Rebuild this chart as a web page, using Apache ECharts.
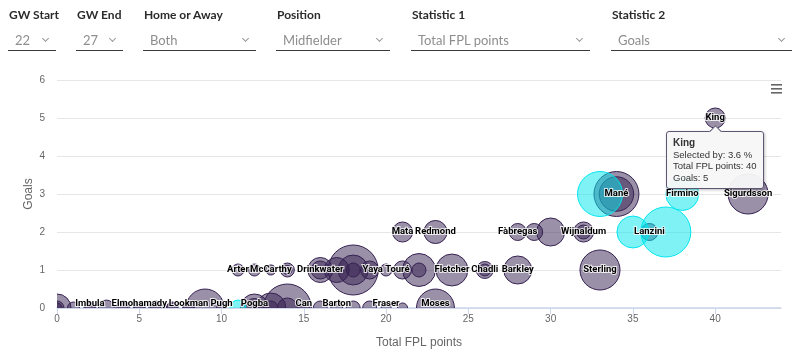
<!DOCTYPE html>
<html>
<head>
<meta charset="utf-8">
<script src="https://cdn.jsdelivr.net/npm/echarts@6/dist/echarts.min.js"></script>
<style>
  html, body { margin: 0; padding: 0; background: #fff; }
  #chart { position: absolute; left: 0; top: 0; width: 800px; height: 354px; }
  .filter { position: absolute; top: 0; z-index: 2; font-family: Lato, 'Open Sans', sans-serif; }
  .filter .title { position: absolute; top: 7px; left: 1px; font-size: 12px; font-weight: 700; color: #2b2b2b; white-space: nowrap; }
  .filter .box { position: absolute; top: 30px; left: 0; right: 0; height: 20px; border-bottom: 1.5px solid #3a3a3a; }
  .filter .value { position: absolute; left: 7px; top: 2px; font-size: 13px; color: #8e8e8e; white-space: nowrap; }
  .filter .chev { position: absolute; right: 8px; top: 6px; width: 4px; height: 4px; border-right: 1px solid #999; border-bottom: 1px solid #999; transform: rotate(45deg); }
  .tip-arrow { position: absolute; top: -5px; left: 50%; margin-left: -4px; width: 8px; height: 8px; background: #f7f7f7; border-left: 1px solid #5e5670; border-top: 1px solid #5e5670; transform: rotate(45deg); }
</style>
</head>
<body>
<div id="chart"></div>
<div id="filters"></div>
<script>
// filter bar
const filterTitles = ['GW Start', 'GW End', 'Home or Away', 'Position', 'Statistic 1', 'Statistic 2'];
const filterValues = ['22', '27', 'Both', 'Midfielder', 'Total FPL points', 'Goals'];
const filterLeft = [8, 76, 143, 276, 411, 611];
const filterWidth = [48, 47, 113, 114, 179, 181];

// players outside the highlighted group
const otherNames = ['King', 'Mané', '', 'Sigurdsson', 'Mata', 'Redmond', 'Fàbregas', '', '', 'Wijnaldum', '', 'Lanzini',
  'Arter', '', 'McCarthy', '', '', 'Drinkwater', '', '', '', '', '', '', 'Yaya Touré', '', '', '', 'Fletcher', 'Chadli', '', 'Barkley', 'Sterling',
  '', '', '', 'Imbula', '', '', 'Elmohamady', '', '', 'Lookman', '', 'Pugh', 'Pogba', '', '', '', '', '', 'Can', '', 'Barton', '', '', 'Fraser', 'Moses',
  '', '', '', '', '', '', '', ''];
const otherPoints = [40, 34, 34, 42, 21, 23, 28, 29, 30, 32, 32, 36,
  11, 12, 13, 14, 14, 16, 16, 17, 18, 18, 18, 19, 20, 21, 22, 22, 24, 26, 26, 28, 33,
  0, 0, 1, 2, 3, 4, 5, 6, 7, 8, 9, 10, 12, 12, 13, 13, 14, 14, 15, 16, 17, 18, 19, 20, 23,
  0, 2, 4, 5, 6, 7, 8, 21];
const otherGoals = [5, 3, 3, 3, 2, 2, 2, 2, 2, 2, 2, 2,
  1, 1, 1, 1, 1, 1, 1, 1, 1, 1, 1, 1, 1, 1, 1, 1, 1, 1, 1, 1, 1,
  0, 0, 0, 0, 0, 0, 0, 0, 0, 0, 0, 0, 0, 0, 0, 0, 0, 0, 0, 0, 0, 0, 0, 0, 0,
  0, 0, 0, 0, 0, 0, 0, 0];
const otherSelected = [3.6, 20.9, 12.0, 16.4, 3.6, 5.0, 2.4, 2.4, 7.7, 3.6, 1.4, 2.4,
  0.85, 0.85, 0.4, 1.4, 0.2, 6.0, 2.8, 6.0, 26.0, 8.9, 1.4, 2.8, 0.85, 2.8, 10.9, 1.4, 10.2, 2.4, 0.85, 7.7, 16.4,
  7.7, 1.4, 0.85, 0.4, 2.0, 0.4, 0.4, 1.4, 0.4, 0.85, 14.7, 0.4, 7.7, 3.2, 8.9, 1.4, 23.9, 3.6, 0.85, 1.4, 0.85, 1.4, 1.4, 0.4, 14.7,
  0.4, 0.85, 1.4, 0.85, 0.4, 0.85, 0.4, 0.4];

// highlighted players (cyan)
const teamNames = ['', 'Firmino', '', '', ''];
const teamPoints = [33, 38, 35, 37, 11];
const teamGoals = [3, 3, 2, 2, 0];
const teamSelected = [20.9, 10.9, 10.2, 26.0, 2.0];

const xTicks = [0, 5, 10, 15, 20, 25, 30, 35, 40];

const PURPLE = '#352151';
const CYAN = '#00e6ee';
const MIN_SIZE = 8;
const MAX_SIZE = 50;

// build the filter bar
const filtersEl = document.getElementById('filters');
filterTitles.forEach((title, i) => {
  const f = document.createElement('div');
  f.className = 'filter';
  f.style.left = filterLeft[i] + 'px';
  f.style.width = filterWidth[i] + 'px';
  f.innerHTML = `<div class="title">${title}</div><div class="box"><span class="value">${filterValues[i]}</span><span class="chev"></span></div>`;
  filtersEl.appendChild(f);
});

const allNames = otherNames.concat(teamNames);
const data = otherPoints.map((p, i) => ({ name: otherNames[i], value: [p, otherGoals[i], otherSelected[i], 0] }))
  .concat(teamPoints.map((p, i) => ({ name: teamNames[i], value: [p, teamGoals[i], teamSelected[i], 1] })));

const maxSelected = Math.max(...otherSelected, ...teamSelected);

function bubbleDiameter(sel) {
  const pos = sel / maxSelected;
  return Math.sqrt(MIN_SIZE * MIN_SIZE + pos * (MAX_SIZE * MAX_SIZE - MIN_SIZE * MIN_SIZE));
}

function renderBubble(params, api) {
  const pt = api.coord([api.value(0), api.value(1)]);
  const r = bubbleDiameter(api.value(2)) / 2;
  const team = api.value(3) === 1;
  const name = allNames[params.dataIndex];
  const bottom = params.coordSys.y + params.coordSys.height;
  const children = [{
    type: 'circle',
    shape: { cx: pt[0], cy: pt[1], r: r },
    style: {
      fill: team ? 'rgba(0,230,238,0.5)' : 'rgba(53,33,81,0.5)',
      stroke: team ? CYAN : PURPLE,
      lineWidth: 1
    }
  }];
  if (name) {
    children.push({
      type: 'text',
      z2: 100,
      style: {
        text: name,
        x: pt[0],
        y: Math.min(pt[1], bottom - 4),
        align: 'center',
        verticalAlign: 'middle',
        font: 'bold 9.5px Roboto, "Liberation Sans", sans-serif',
        fill: '#000',
        stroke: 'rgba(255,255,255,0.8)',
        lineWidth: 2
      }
    });
  }
  return { type: 'group', children };
}

const chart = echarts.init(document.getElementById('chart'));
chart.setOption({
  animation: false,
  textStyle: { fontFamily: '"Liberation Sans", Arial, sans-serif' },
  grid: { left: 57, right: 19, top: 80, bottom: 43 },
  tooltip: {
    trigger: 'item',
    triggerOn: 'none',
    alwaysShowContent: true,
    transitionDuration: 0,
    position: (pt, params, dom, rect, size) => {
      const cx = rect ? rect.x + rect.width / 2 : pt[0];
      const by = rect ? rect.y + rect.height : pt[1] + 10;
      return [cx - size.contentSize[0] / 2, by + 2];
    },
    backgroundColor: 'rgba(247,247,247,0.95)',
    borderColor: '#5e5670',
    borderWidth: 1,
    borderRadius: 3,
    padding: [5, 6],
    textStyle: { fontSize: 9.5, color: '#333', fontFamily: '"Liberation Sans", Arial, sans-serif', lineHeight: 11.5 },
    extraCssText: 'line-height:11.5px;box-shadow:1px 1px 3px rgba(0,0,0,0.25);overflow:visible;',
    formatter: (p) => `<div class="tip-arrow"></div><b style="font-size:10px">${p.name}</b><br/>Selected by: ${p.value[2]} %<br/>Total FPL points: ${p.value[0]}<br/>Goals: ${p.value[1]}`
  },
  xAxis: {
    type: 'value',
    min: 0,
    max: 44,
    interval: 5,
    name: 'Total FPL points',
    nameLocation: 'middle',
    nameGap: 29,
    nameTextStyle: { color: '#666', fontSize: 12 },
    axisLine: { show: true, lineStyle: { color: '#ccd6eb', width: 1.5 } },
    axisTick: { show: true, length: 6, lineStyle: { color: '#ccd6eb' }, customValues: xTicks },
    axisLabel: { color: '#666', fontSize: 10, margin: 6, customValues: xTicks },
    splitLine: { show: false }
  },
  yAxis: {
    type: 'value',
    min: 0,
    max: 6,
    interval: 1,
    name: 'Goals',
    nameLocation: 'middle',
    nameGap: 22,
    nameMoveOverlap: false,
    nameTextStyle: { color: '#666', fontSize: 12 },
    axisLine: { show: false },
    axisTick: { show: false },
    axisLabel: { color: '#666', fontSize: 10, margin: 12 },
    splitLine: { lineStyle: { color: '#e6e6e6' } }
  },
  graphic: [{
    type: 'group',
    right: 18,
    top: 84,
    children: [
      { type: 'rect', shape: { x: 0, y: 0, width: 11, height: 1.6 }, style: { fill: '#666' } },
      { type: 'rect', shape: { x: 0, y: 4, width: 11, height: 1.6 }, style: { fill: '#666' } },
      { type: 'rect', shape: { x: 0, y: 8, width: 11, height: 1.6 }, style: { fill: '#666' } }
    ]
  }],
  series: [{
    type: 'custom',
    clip: true,
    renderItem: renderBubble,
    encode: { x: 0, y: 1 },
    data: data
  }]
});

chart.dispatchAction({ type: 'showTip', seriesIndex: 0, dataIndex: 0 });
</script>
</body>
</html>
